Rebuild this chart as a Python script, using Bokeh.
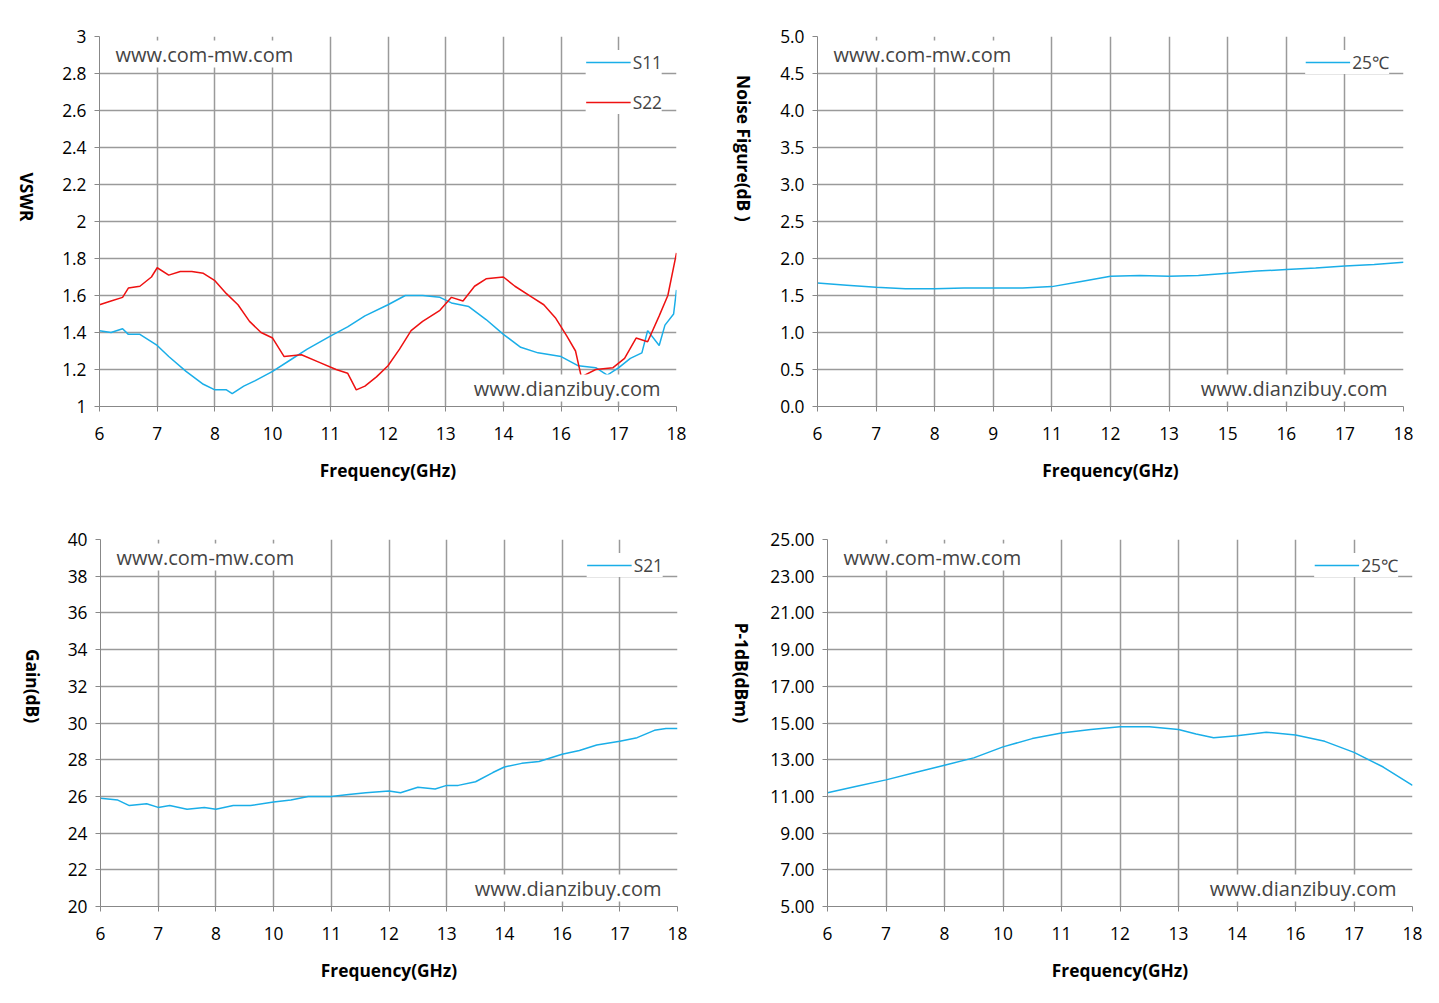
import math
from bokeh.plotting import figure
from bokeh.layouts import row, column
from bokeh.models import FixedTicker, Label, Legend, LegendItem
from bokeh.embed import file_html
from bokeh.resources import INLINE

FONT = "Open Sans"
BLUE = "#1aaee8"
RED = "#ee1111"

labels_a = ["6", "7", "8", "10", "11", "12", "13", "14", "16", "17", "18"]
labels_b = ["6", "7", "8", "9", "11", "12", "13", "15", "16", "17", "18"]

s11_x = [0, 0.2, 0.4, 0.5, 0.7, 1.0, 1.2, 1.5, 1.8, 2.0, 2.2, 2.3, 2.5, 2.7, 3.0, 3.3, 3.6, 4.0, 4.3, 4.6, 5.0, 5.3, 5.6, 5.9, 6.1, 6.4, 6.7, 7.0, 7.3, 7.6, 8.0, 8.3, 8.6, 8.8, 9.0, 9.2, 9.4, 9.5, 9.7, 9.8, 9.95, 10.0]
s11_y = [1.41, 1.40, 1.42, 1.39, 1.39, 1.33, 1.27, 1.19, 1.12, 1.09, 1.09, 1.07, 1.11, 1.14, 1.19, 1.25, 1.31, 1.38, 1.43, 1.49, 1.55, 1.60, 1.60, 1.59, 1.56, 1.54, 1.47, 1.39, 1.32, 1.29, 1.27, 1.22, 1.21, 1.17, 1.21, 1.26, 1.29, 1.41, 1.33, 1.44, 1.50, 1.63]
s22_x = [0, 0.2, 0.4, 0.5, 0.7, 0.9, 1.0, 1.2, 1.4, 1.6, 1.8, 2.0, 2.2, 2.4, 2.6, 2.8, 3.0, 3.2, 3.5, 3.8, 4.1, 4.3, 4.45, 4.6, 4.8, 5.0, 5.2, 5.4, 5.6, 5.9, 6.1, 6.3, 6.5, 6.7, 7.0, 7.2, 7.5, 7.7, 7.9, 8.1, 8.25, 8.35, 8.6, 8.9, 9.1, 9.3, 9.5, 9.7, 9.85, 10.0]
s22_y = [1.55, 1.57, 1.59, 1.64, 1.65, 1.70, 1.75, 1.71, 1.73, 1.73, 1.72, 1.68, 1.61, 1.55, 1.46, 1.40, 1.37, 1.27, 1.28, 1.24, 1.20, 1.18, 1.09, 1.11, 1.16, 1.22, 1.31, 1.41, 1.46, 1.52, 1.59, 1.57, 1.65, 1.69, 1.70, 1.65, 1.59, 1.55, 1.48, 1.38, 1.30, 1.16, 1.20, 1.21, 1.26, 1.37, 1.35, 1.49, 1.60, 1.83]

nf_x = [0, 0.5, 1.0, 1.5, 2.0, 2.5, 3.0, 3.5, 4.0, 4.5, 5.0, 5.5, 6.0, 6.5, 7.0, 7.5, 8.0, 8.5, 9.0, 9.5, 10.0]
nf_y = [1.67, 1.64, 1.61, 1.59, 1.59, 1.60, 1.60, 1.60, 1.62, 1.69, 1.76, 1.77, 1.76, 1.77, 1.80, 1.83, 1.85, 1.87, 1.90, 1.92, 1.95]

gain_x = [0, 0.3, 0.5, 0.8, 1.0, 1.2, 1.5, 1.8, 2.0, 2.3, 2.6, 3.0, 3.3, 3.6, 4.0, 4.3, 4.6, 5.0, 5.2, 5.5, 5.8, 6.0, 6.2, 6.5, 6.8, 7.0, 7.3, 7.6, 8.0, 8.3, 8.6, 9.0, 9.3, 9.6, 9.8, 10.0]
gain_y = [25.9, 25.8, 25.5, 25.6, 25.4, 25.5, 25.3, 25.4, 25.3, 25.5, 25.5, 25.7, 25.8, 26.0, 26.0, 26.1, 26.2, 26.3, 26.2, 26.5, 26.4, 26.6, 26.6, 26.8, 27.3, 27.6, 27.8, 27.9, 28.3, 28.5, 28.8, 29.0, 29.2, 29.6, 29.7, 29.7]

p1_x = [0, 0.5, 1.0, 1.5, 2.0, 2.5, 3.0, 3.5, 4.0, 4.5, 5.0, 5.5, 6.0, 6.3, 6.6, 7.0, 7.5, 8.0, 8.5, 9.0, 9.5, 10.0]
p1_y = [11.2, 11.55, 11.9, 12.3, 12.7, 13.1, 13.7, 14.15, 14.45, 14.65, 14.8, 14.8, 14.65, 14.4, 14.2, 14.3, 14.5, 14.35, 14.0, 13.4, 12.6, 11.6]


def make(w, h, bl, br, bt, bb, yr, yticks, ylab, ytitle, xlabels, ystand):
    p = figure(width=w, height=h, x_range=(0, 10), y_range=yr,
               output_backend="svg", toolbar_location=None,
               min_border_left=bl, min_border_right=br, min_border_top=bt, min_border_bottom=bb)
    p.outline_line_color = None
    p.xaxis.ticker = FixedTicker(ticks=list(range(11)))
    p.xaxis.major_label_overrides = {i: s for i, s in enumerate(xlabels)}
    p.yaxis.ticker = FixedTicker(ticks=yticks)
    p.yaxis.major_label_overrides = {t: l for t, l in zip(yticks, ylab)}
    for ax in (p.xaxis[0], p.yaxis[0]):
        ax.axis_line_color = "#888888"
        ax.major_tick_line_color = "#888888"
        ax.major_tick_in = 0
        ax.major_tick_out = 5
        ax.minor_tick_line_color = None
        ax.major_label_text_font = FONT
        ax.major_label_text_font_size = "13pt"
        ax.major_label_text_color = "#000000"
        ax.axis_label_text_font = FONT
        ax.axis_label_text_font_style = "bold"
        ax.axis_label_text_font_size = "13pt"
        ax.axis_label_text_color = "#000000"
    p.xaxis.major_label_standoff = 15
    p.xaxis.axis_label_standoff = 15
    p.yaxis.major_label_standoff = 8
    p.yaxis.axis_label_standoff = ystand
    p.xaxis.axis_label = "Frequency(GHz)"
    p.yaxis.axis_label = ytitle
    p.yaxis.axis_label_orientation = -math.pi / 2
    p.grid.grid_line_color = "#9a9a9a"
    p.grid.grid_line_width = 1.5
    p.xgrid.ticker = FixedTicker(ticks=list(range(11)))
    p.ygrid.ticker = FixedTicker(ticks=yticks)
    return p


def marks(p):
    p.add_layout(Label(x=16, y=p.y_range.end, x_units="screen", y_units="data", text="www.com-mw.com",
                       text_font=FONT, text_font_size="15pt", text_baseline="top", y_offset=-4,
                       background_fill_color="white"))
    p.add_layout(Label(x=10, y=p.y_range.start, x_units="data", text="www.dianzibuy.com",
                       text_font=FONT, text_font_size="15pt", text_align="right", x_offset=-16, y_offset=5,
                       background_fill_color="white"))


def legend(p, items, spacing=0):
    lg = Legend(items=items, location="top_right", border_line_color=None,
                background_fill_color="white", background_fill_alpha=1.0,
                label_text_font=FONT, label_text_font_size="13pt", glyph_width=45,
                spacing=spacing, margin=14, padding=10, label_standoff=2)
    p.add_layout(lg)


v = [1 + 0.2 * i for i in range(11)]
p1 = make(715, 495, 99, 39, 36, 89, (1, 3), v, ["1", "1.2", "1.4", "1.6", "1.8", "2", "2.2", "2.4", "2.6", "2.8", "3"], "VSWR", labels_a, 32)
r1 = p1.line(s11_x, s11_y, color=BLUE, line_width=1.5)
r2 = p1.line(s22_x, s22_y, color=RED, line_width=1.5)
marks(p1)
legend(p1, [LegendItem(label="S11", renderers=[r1]), LegendItem(label="S22", renderers=[r2])], spacing=16)

nv = [0.5 * i for i in range(11)]
p2 = make(715, 495, 102, 27, 34, 89, (0, 5), nv, ["%.1f" % t for t in nv], "Noise Figure(dB )", labels_b, 33)
r3 = p2.line(nf_x, nf_y, color=BLUE, line_width=1.5)
marks(p2)
legend(p2, [LegendItem(label="25℃", renderers=[r3])])

gv = [20 + 2 * i for i in range(11)]
p3 = make(715, 501, 100, 38, 44, 90, (20, 40), gv, [str(t) for t in gv], "Gain(dB)", labels_a, 32)
r4 = p3.line(gain_x, gain_y, color=BLUE, line_width=1.5)
marks(p3)
legend(p3, [LegendItem(label="S21", renderers=[r4])])

pv = [5 + 2 * i for i in range(11)]
p4 = make(715, 501, 101, 18, 44, 90, (5, 25), pv, ["%.2f" % t for t in pv], "P-1dB(dBm)", labels_a, 25)
r5 = p4.line(p1_x, p1_y, color=BLUE, line_width=1.5)
marks(p4)
legend(p4, [LegendItem(label="25℃", renderers=[r5])])

layout = column(row(p1, p2, spacing=0), row(p3, p4, spacing=0), spacing=0)
open("out.html", "w").write(file_html(layout, INLINE))
